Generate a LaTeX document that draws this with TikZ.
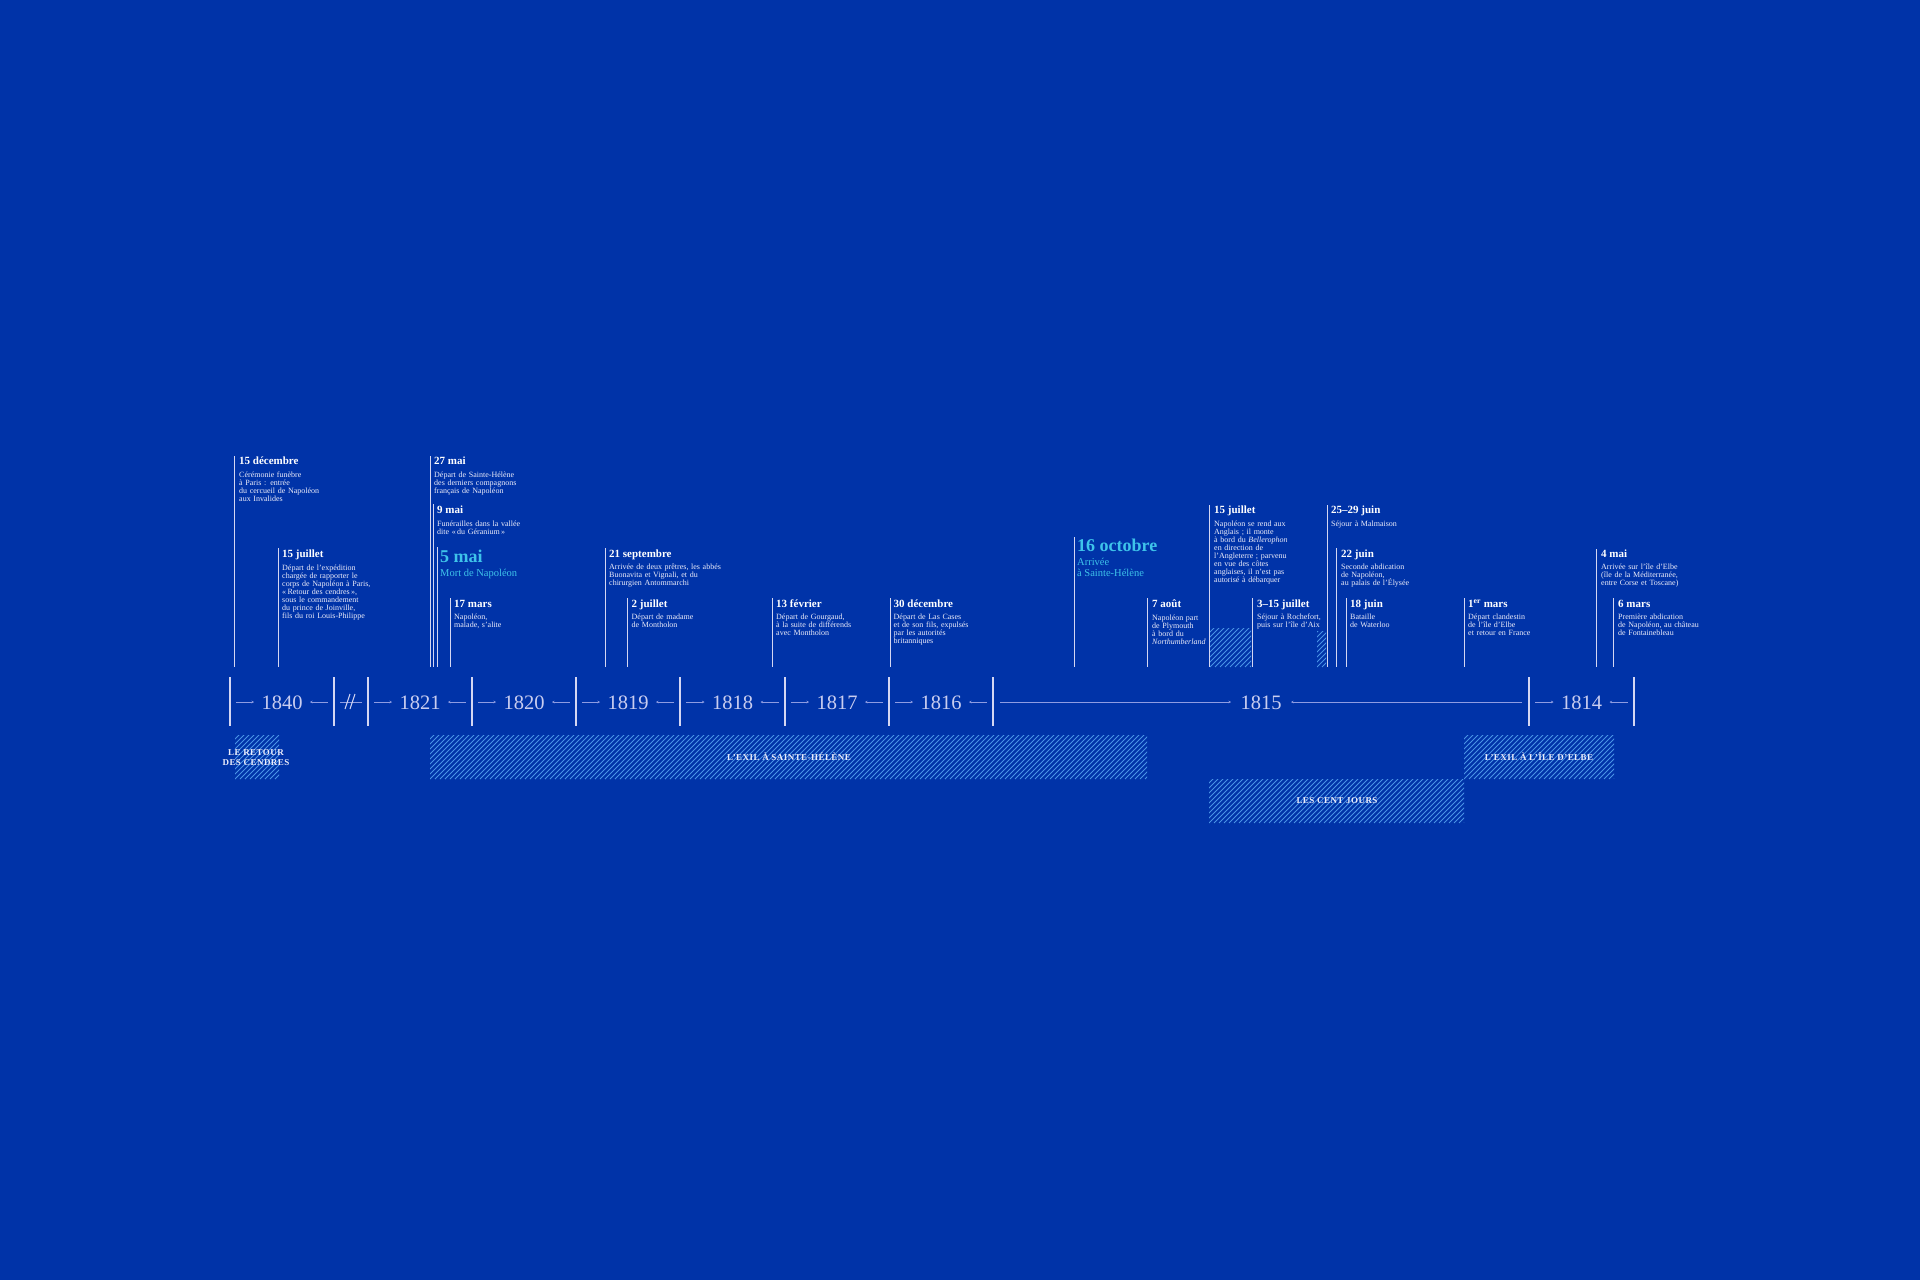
\documentclass[tikz,border=0pt]{standalone}
\usepackage{fontspec}
\setmainfont{Liberation Serif}
\usetikzlibrary{arrows.meta}
\definecolor{nightblue}{HTML}{0033A8}
\definecolor{paleline}{HTML}{D4D6F2}
\definecolor{paletext}{HTML}{ECECFA}
\definecolor{yeartext}{HTML}{C9CDF0}
\definecolor{tickblue}{HTML}{8E9CE2}
\definecolor{hatchblue}{HTML}{4A94E6}
\definecolor{cyantext}{HTML}{3EC3EA}
\newcommand\bodyfont{\fontsize{8}{8}\selectfont\lineskiplimit=-20pt\relax}
\newcommand\datefont{\fontsize{11}{11}\selectfont\bfseries}
\newcommand\bigdatefont{\fontsize{18}{18}\selectfont\bfseries}
\newcommand\subfont{\fontsize{10.5}{11}\selectfont}
\newcommand\yearfont{\fontsize{20.5}{20.5}\selectfont}
\newcommand\bandfont{\fontsize{9}{10}\selectfont\bfseries\addfontfeature{LetterSpace=5}}
\newcommand\hatchbox[5]{%
  \begin{scope}
    \clip (#1,#2) rectangle (#3,#4);
    \begin{scope}[shift={(#1,#4)}]
      \foreach \k in {0,5,...,#5} \draw[hatchline] (\k-50,0) -- (\k,-50);
    \end{scope}
  \end{scope}}
\begin{document}
\begin{tikzpicture}[x=1pt,y=-1pt,
  bar/.style={draw=paleline,line width=1.4pt},
  evline/.style={draw=paleline,line width=0.8pt},
  tick/.style={draw=tickblue,line width=0.8pt,-{Stealth[length=2.5pt,width=2.5pt]}},
  hatchline/.style={draw=hatchblue,line width=0.9pt},
  date/.style={anchor=base west,inner sep=0,text=white,font=\datefont},
  bigdate/.style={anchor=base west,inner sep=0,text=cyantext,font=\bigdatefont},
  sub/.style={anchor=base west,inner sep=0,text=cyantext,font=\subfont},
  body/.style={anchor=north west,inner sep=0,text=paletext,font=\bodyfont,
    text width=150pt,align=left,execute at begin node={\rule{0pt}{6pt}}},
  year/.style={anchor=base,inner sep=0,text=yeartext,font=\yearfont},
  band/.style={inner sep=0,text=paletext,font=\bandfont,align=center}]
\useasboundingbox (0,0) rectangle (1920,1280);
\fill[nightblue] (0,0) rectangle (1920,1280);

% hatched periods
\hatchbox{1210}{628}{1251}{667}{100}
\hatchbox{1317}{631}{1326}{667}{70}
\hatchbox{235}{735}{279}{779}{100}
\hatchbox{430}{735}{1147}{779}{780}
\hatchbox{1464}{735}{1614}{779}{210}
\hatchbox{1209}{779}{1464}{823}{310}
\node[band] (retour) at (256,758) {LE RETOUR\\DES CENDRES};
\node[band] (helene) at (789,757) {L’EXIL À SAINTE-HÉLÈNE};
\node[band] (elbe) at (1539,757) {L’EXIL À L’ÎLE D’ELBE};
\node[band] (centjours) at (1337,801) {LES CENT JOURS};

% axis
\foreach \x in {230,334,368,472,576,680,785,889,993,1529,1634}
  \draw[bar] (\x,677) -- (\x,726);
\foreach \l/\r/\yr in {230/334/1840,368/472/1821,472/576/1820,576/680/1819,
    680/785/1818,785/889/1817,889/993/1816,1529/1634/1814}{
  \pgfmathsetmacro\c{(\l+\r)/2}
  \node[year] (y\yr) at (\c,709) {\yr};
  \draw[tick] (\l+6,702) -- (\c-28,702);
  \draw[tick] (\r-6,702) -- (\c+28,702);
}
\node[year] (y1815) at (1261,709) {1815};
\draw[tick] (1000,702) -- (1231,702);
\draw[tick] (1522,702) -- (1291,702);
\draw[draw=tickblue,line width=0.8pt] (340,702) -- (362,702);
\draw[draw=paleline,line width=1pt] (345,709) -- (350,694);
\draw[draw=paleline,line width=1pt] (350,709) -- (355,694);

% 1840
\draw[evline] (234,456) -- (234,667);
\node[date] (dec15) at (239,464) {15 décembre};
\node[body] (dec15t) at (239,471) {Cérémonie funèbre\\à Paris : entrée\\du cercueil de Napoléon\\aux Invalides};
\draw[evline] (278,548) -- (278,667);
\node[date] (jul15a) at (282,557) {15 juillet};
\node[body] (jul15at) at (282,564) {Départ de l’expédition\\chargée de rapporter le\\corps de Napoléon à Paris,\\«\,Retour des cendres\,»,\\sous le commandement\\du prince de Joinville,\\fils du roi Louis-Philippe};

% 1821
\draw[evline] (430,456) -- (430,667);
\node[date] (mai27) at (434,464) {27 mai};
\node[body] (mai27t) at (434,471) {Départ de Sainte-Hélène\\des derniers compagnons\\français de Napoléon};
\draw[evline] (433.5,504) -- (433.5,667);
\node[date] (mai9) at (437,513) {9 mai};
\node[body] (mai9t) at (437,520) {Funérailles dans la vallée\\dite «\,du Géranium\,»};
\draw[evline] (437,547) -- (437,667);
\node[bigdate] (mai5) at (440,562) {5 mai};
\node[sub] (mai5t) at (440,576) {Mort de Napoléon};
\draw[evline] (450.5,598) -- (450.5,667);
\node[date] (mar17) at (454,607) {17 mars};
\node[body] (mar17t) at (454,613) {Napoléon,\\malade, s’alite};

% 1819 -- 1816
\draw[evline] (605,548) -- (605,667);
\node[date] (sep21) at (609,557) {21 septembre};
\node[body] (sep21t) at (609,563) {Arrivée de deux prêtres, les abbés\\Buonavita et Vignali, et du\\chirurgien Antommarchi};
\draw[evline] (627,598) -- (627,667);
\node[date] (jul2) at (631.5,607) {2 juillet};
\node[body] (jul2t) at (631.5,613) {Départ de madame\\de Montholon};
\draw[evline] (772,598) -- (772,667);
\node[date] (fev13) at (776,607) {13 février};
\node[body] (fev13t) at (776,613) {Départ de Gourgaud,\\à la suite de différends\\avec Montholon};
\draw[evline] (890,598) -- (890,667);
\node[date] (dec30) at (893.5,607) {30 décembre};
\node[body] (dec30t) at (893.5,613) {Départ de Las Cases\\et de son fils, expulsés\\par les autorités\\britanniques};

% 1815
\draw[evline] (1074,537) -- (1074,667);
\node[bigdate] (oct16) at (1077,551) {16 octobre};
\node[sub] (oct16a) at (1077,565) {Arrivée};
\node[sub] (oct16b) at (1077,576) {à Sainte-Hélène};
\draw[evline] (1147,598) -- (1147,667);
\node[date] (aou7) at (1152,607) {7 août};
\node[body] (aou7t) at (1152,614) {Napoléon part\\de Plymouth\\à bord du\\\textit{Northumberland}};
\draw[evline] (1209,505) -- (1209,667);
\node[date] (jul15) at (1214,513) {15 juillet};
\node[body] (jul15t) at (1214,520) {Napoléon se rend aux\\Anglais ; il monte\\à bord du \textit{Bellerophon}\\en direction de\\l’Angleterre ; parvenu\\en vue des côtes\\anglaises, il n’est pas\\autorisé à débarquer};
\draw[evline] (1252,598) -- (1252,667);
\node[date] (jul3) at (1257,607) {3–15 juillet};
\node[body] (jul3t) at (1257,613) {Séjour à Rochefort,\\puis sur l’île d’Aix};
\draw[evline] (1327,505) -- (1327,667);
\node[date] (jun25) at (1331,513) {25–29 juin};
\node[body] (jun25t) at (1331,520) {Séjour à Malmaison};
\draw[evline] (1336,548) -- (1336,667);
\node[date] (jun22) at (1341,557) {22 juin};
\node[body] (jun22t) at (1341,563) {Seconde abdication\\de Napoléon,\\au palais de l’Élysée};
\draw[evline] (1346,598) -- (1346,667);
\node[date] (jun18) at (1350,607) {18 juin};
\node[body] (jun18t) at (1350,613) {Bataille\\de Waterloo};
\draw[evline] (1464,598) -- (1464,667);
\node[date] (mar1) at (1468,607) {1\textsuperscript{er} mars};
\node[body] (mar1t) at (1468,613) {Départ clandestin\\de l’île d’Elbe\\et retour en France};

% 1814
\draw[evline] (1596,549) -- (1596,667);
\node[date] (mai4) at (1601,557) {4 mai};
\node[body] (mai4t) at (1601,563) {Arrivée sur l’île d’Elbe\\(île de la Méditerranée,\\entre Corse et Toscane)};
\draw[evline] (1613,598) -- (1613,667);
\node[date] (mar6) at (1618,607) {6 mars};
\node[body] (mar6t) at (1618,613) {Première abdication\\de Napoléon, au château\\de Fontainebleau};
\end{tikzpicture}
\end{document}
